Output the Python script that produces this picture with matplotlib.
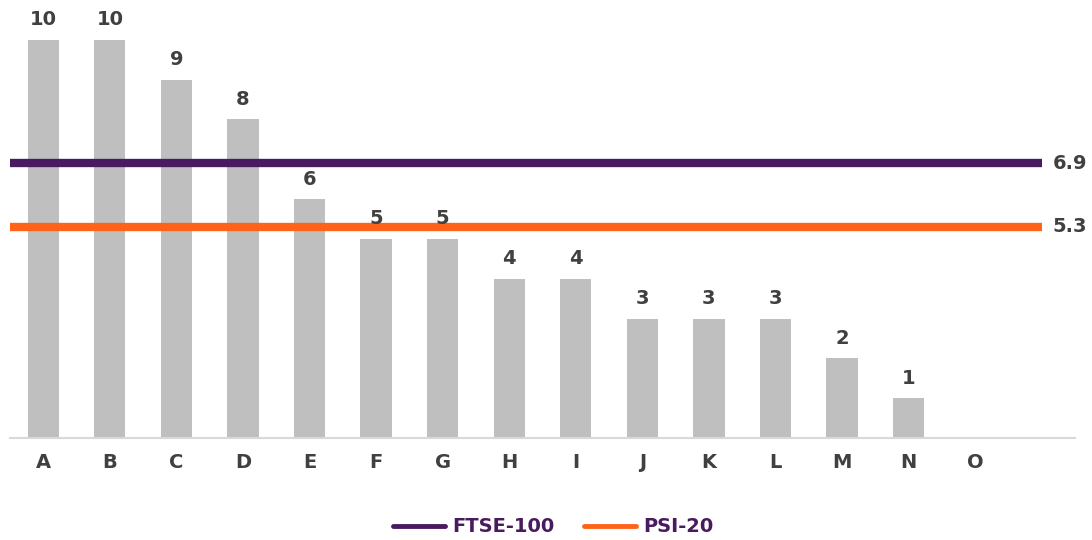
import matplotlib
matplotlib.use("Agg")
import matplotlib.pyplot as plt
from matplotlib.lines import Line2D

categories = ["A","B","C","D","E","F","G","H","I","J","K","L","M","N","O"]
values = [10,10,9,8,6,5,5,4,4,3,3,3,2,1,0]
ftse_avg = 6.9
psi_avg = 5.3

bar_color = "#BFBFBF"
purple = "#4A1A60"
orange = "#FF6319"
txt = "#404040"
fs = 14

fig = plt.figure(figsize=(10.92, 5.40), dpi=100)
W, H = 1092, 540
ax = fig.add_axes([10/W, 1-438/H, (1075-10)/W, 438/H])
x = list(range(len(categories)))
ax.bar(x, values, width=0.47, color=bar_color, zorder=1)
for xi, v in zip(x, values):
    if v > 0:
        ax.annotate(str(v), (xi, v), xytext=(0, 7.5), textcoords="offset points",
                    ha="center", va="bottom", fontsize=fs, fontweight="bold", color=txt)
ax.plot([-0.5, 15], [ftse_avg, ftse_avg], color=purple, lw=6, solid_capstyle="butt", zorder=2)
ax.plot([-0.5, 15], [psi_avg, psi_avg], color=orange, lw=6, solid_capstyle="butt", zorder=2)
ax.text(15.16, ftse_avg, f"{ftse_avg}", ha="left", va="center", fontsize=fs, fontweight="bold", color=txt)
ax.text(15.16, psi_avg, f"{psi_avg}", ha="left", va="center", fontsize=fs, fontweight="bold", color=txt)

ax.set_xlim(-0.5, 15.5)
ax.set_ylim(0, 11)
ax.set_xticks(x)
ax.set_xticklabels(categories, fontsize=fs, fontweight="bold", color=txt)
ax.tick_params(axis="x", length=0, pad=11)
ax.set_yticks([])
for s in ["top", "right", "left"]:
    ax.spines[s].set_visible(False)
ax.spines["bottom"].set_color("#D9D9D9")
ax.spines["bottom"].set_linewidth(1.5)

handles = [Line2D([0], [0], color=purple, lw=3.5, solid_capstyle="round"),
           Line2D([0], [0], color=orange, lw=3.5, solid_capstyle="round")]
leg = fig.legend(handles, ["FTSE-100", "PSI-20"], loc="center", bbox_to_anchor=(553/W, 1-527/H),
                 ncol=2, frameon=False, handlelength=2.7, handletextpad=0.35, columnspacing=1.5,
                 prop={"size": fs, "weight": "bold"})
for t in leg.get_texts():
    t.set_color(purple)

fig.savefig("out.png", dpi=100)
